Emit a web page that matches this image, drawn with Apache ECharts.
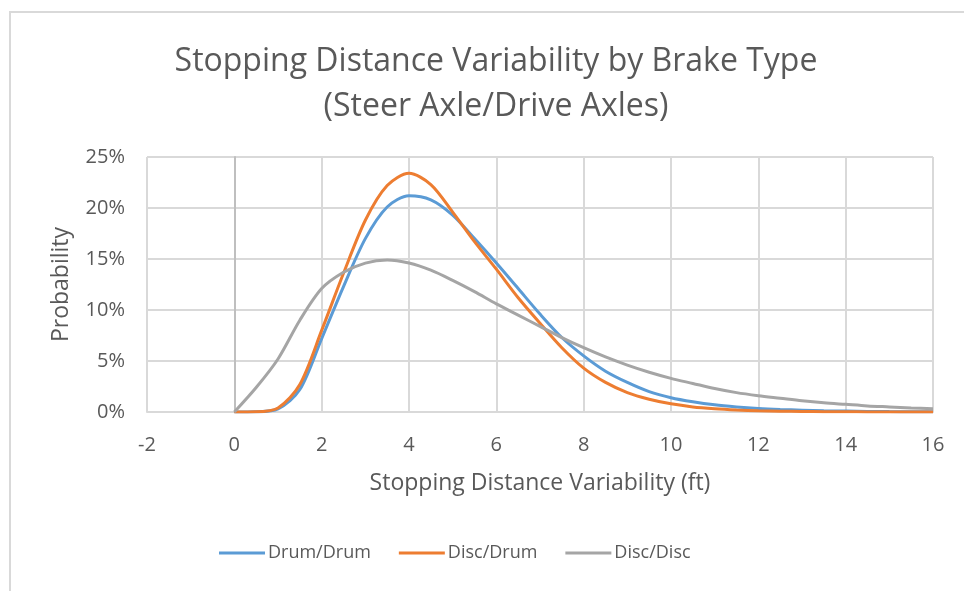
<!DOCTYPE html>
<html>
<head>
<meta charset="utf-8">
<script src="https://cdn.jsdelivr.net/npm/echarts@6/dist/echarts.min.js"></script>
<style>
  html, body { margin: 0; padding: 0; background: #fff; }
  #frame { position: absolute; left: 9px; top: 11px; width: 1000px; height: 700px;
           border-left: 2px solid #d9d9d9; border-top: 2px solid #d9d9d9; }
  #chart { position: absolute; left: 0; top: 0; width: 964px; height: 591px; }
</style>
</head>
<body>
<div id="frame"></div>
<div id="chart"></div>
<script>
// stopping distance (ft)
var distances = [0, 0.5, 1, 1.5, 2, 2.5, 3, 3.5, 4, 4.5, 5, 5.5, 6, 6.5, 7, 7.5, 8,
  8.5, 9, 9.5, 10, 10.5, 11, 11.5, 12, 12.5, 13, 13.5, 14, 14.5, 15, 15.5, 16];

// probability (%)
var drumDrum = [0, 0.02, 0.3, 2.2, 7.2, 12.3, 17.0, 20.1, 21.2, 20.8, 19.3, 17.0, 14.6,
  12.1, 9.6, 7.3, 5.5, 4.0, 2.9, 2.0, 1.4, 1.0, 0.7, 0.5, 0.35, 0.25, 0.18, 0.12, 0.09,
  0.06, 0.04, 0.03, 0.02];
var discDrum = [0, 0.02, 0.4, 2.7, 8.0, 13.6, 18.8, 22.2, 23.4, 22.3, 19.6, 16.7, 14.0,
  11.2, 8.7, 6.3, 4.3, 2.9, 1.9, 1.25, 0.8, 0.5, 0.32, 0.2, 0.12, 0.08, 0.05, 0.03, 0.02,
  0.01, 0.01, 0.01, 0.01];
var discDisc = [0, 2.4, 5.2, 9.0, 12.1, 13.7, 14.6, 14.9, 14.6, 13.9, 12.9, 11.8, 10.6,
  9.5, 8.4, 7.3, 6.3, 5.4, 4.6, 3.9, 3.3, 2.8, 2.3, 1.9, 1.6, 1.35, 1.1, 0.9, 0.75, 0.6,
  0.5, 0.4, 0.33];

var seriesNames = ['Drum/Drum', 'Disc/Drum', 'Disc/Disc'];
var seriesColors = ['#5b9bd5', '#ed7d31', '#a5a5a5'];

function pairs(ys) {
  return distances.map(function (x, i) { return [x, ys[i]]; });
}

var chart = echarts.init(document.getElementById('chart'));
var font = '"Open Sans", "Noto Sans", sans-serif';

var option = {
  animation: false,
  color: seriesColors,
  title: {
    text: 'Stopping Distance Variability by Brake Type\n(Steer Axle/Drive Axles)',
    left: 491,
    top: 34,
    textAlign: 'center',
    textStyle: {
      fontFamily: font, fontSize: 32, fontWeight: 'normal', color: '#595959',
      lineHeight: 45
    }
  },
  legend: {
    top: 539,
    left: 214,
    itemWidth: 46,
    itemHeight: 3,
    itemGap: 28,
    icon: 'rect',
    textStyle: { fontFamily: font, fontSize: 18, color: '#595959', padding: [0, 0, 0, -2] },
    data: seriesNames
  },
  grid: { left: 147, right: 31, top: 157, bottom: 179 },
  xAxis: {
    type: 'value',
    min: -2, max: 16, interval: 2,
    name: 'Stopping Distance Variability (ft)',
    nameLocation: 'middle',
    nameGap: 60,
    nameTextStyle: { fontFamily: font, fontSize: 23, color: '#595959' },
    axisLine: { show: true, onZero: false, lineStyle: { color: '#d9d9d9', width: 2 } },
    axisTick: { show: false },
    axisLabel: { fontFamily: font, fontSize: 20, color: '#595959', margin: 23 },
    splitLine: { show: true, lineStyle: { color: '#d9d9d9', width: 2 } }
  },
  yAxis: {
    type: 'value',
    min: 0, max: 25, interval: 5,
    name: 'Probability',
    nameLocation: 'middle',
    nameGap: 74,
    nameTextStyle: { fontFamily: font, fontSize: 23, color: '#595959' },
    axisLine: { show: true, onZero: true, lineStyle: { color: '#bfbfbf', width: 2 } },
    axisTick: { show: false },
    axisLabel: { fontFamily: font, fontSize: 20, color: '#595959', margin: 22,
                 formatter: '{value}%' },
    splitLine: { show: true, lineStyle: { color: '#d9d9d9', width: 2 } }
  },
  series: [
    { name: seriesNames[0], type: 'line', data: pairs(drumDrum) },
    { name: seriesNames[1], type: 'line', data: pairs(discDrum) },
    { name: seriesNames[2], type: 'line', data: pairs(discDisc) }
  ].map(function (s) {
    s.smooth = 0.3;
    s.showSymbol = false;
    s.symbol = 'none';
    s.lineStyle = { width: 3 };
    return s;
  })
};

if (option && typeof option === 'object') {
  chart.setOption(option);
}
</script>
</body>
</html>
